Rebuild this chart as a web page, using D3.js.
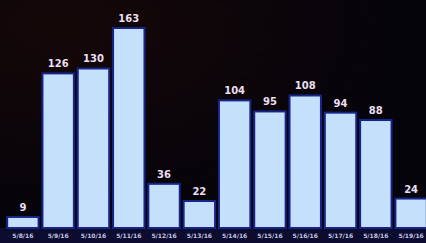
<!DOCTYPE html>
<html lang="en">
<head>
<meta charset="utf-8">
<title>Daily counts</title>
<script src="https://d3js.org/d3.v7.min.js"></script>
<style>
  body { margin: 0; background: #07040a; }
  svg { display: block; }
  .bar { fill: #c4e0fa; stroke: #18248a; stroke-width: 2; }
  .val { fill: #ebdff0; font: bold 10px "DejaVu Sans", sans-serif; text-anchor: middle; }
  .day { fill: #c4c8e6; font: bold 6px "DejaVu Sans", sans-serif; text-anchor: middle; }
</style>
</head>
<body>
<svg width="426" height="243"></svg>
<script>
var dates = ["5/8/16", "5/9/16", "5/10/16", "5/11/16", "5/12/16", "5/13/16",
             "5/14/16", "5/15/16", "5/16/16", "5/17/16", "5/18/16", "5/19/16"];
var counts = [9, 126, 130, 163, 36, 22, 104, 95, 108, 94, 88, 24];

var svg = d3.select("svg"),
    width = +svg.attr("width"),
    height = +svg.attr("height");

// dark backdrop with a faint warm corner
var defs = svg.append("defs");
var grad = defs.append("radialGradient").attr("id", "bg")
    .attr("cx", "15%").attr("cy", "10%").attr("r", "80%");
grad.append("stop").attr("offset", "0%").attr("stop-color", "#150708");
grad.append("stop").attr("offset", "100%").attr("stop-color", "#05040a");
svg.append("rect").attr("width", width).attr("height", height).attr("fill", "url(#bg)");

// navy strip under the bars
svg.append("rect").attr("x", 0).attr("y", 228).attr("width", width).attr("height", 15)
    .attr("fill", "#0c0c2e");

var x = d3.scaleBand().domain(dates).range([4, 430])
    .paddingInner(0.11).paddingOuter(0.09);
var y = d3.scaleLinear().domain([0, 163]).range([228, 28]);

svg.selectAll(".bar")
  .data(counts)
  .enter().append("rect")
    .attr("class", "bar")
    .attr("x", function(d, i) { return x(dates[i]); })
    .attr("y", function(d) { return y(d); })
    .attr("width", x.bandwidth())
    .attr("height", function(d) { return y(0) - y(d); });

svg.selectAll(".val")
  .data(counts)
  .enter().append("text")
    .attr("class", "val")
    .attr("x", function(d, i) { return x(dates[i]) + x.bandwidth() / 2; })
    .attr("y", function(d) { return y(d) - 6; })
    .text(function(d) { return d; });

svg.selectAll(".day")
  .data(dates)
  .enter().append("text")
    .attr("class", "day")
    .attr("x", function(d) { return x(d) + x.bandwidth() / 2; })
    .attr("y", 238)
    .text(function(d) { return d; });
</script>
</body>
</html>
